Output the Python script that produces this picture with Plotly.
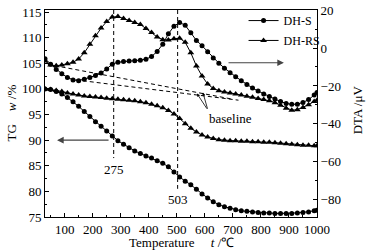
import plotly.graph_objects as go

# ---------------- data ----------------
T = [30, 50, 70, 90, 110, 130, 150, 170, 190, 210, 230, 250, 270, 290, 310, 330, 350, 370, 390, 410,
     430, 450, 470, 490, 510, 530, 550, 570, 590, 610, 630, 650, 670, 690, 710, 730, 750, 770, 790, 810,
     830, 850, 870, 890, 910, 930, 950, 970, 990, 1000]

tg_s = [100.0, 99.9, 99.5, 99.0, 98.3, 97.5, 96.6, 95.6, 94.6, 93.6, 92.7, 91.8, 90.8, 89.9, 89.2, 88.5,
        87.9, 87.4, 86.9, 86.5, 86.0, 85.5, 84.8, 83.8, 82.8, 82.0, 81.3, 80.4, 79.5, 78.7, 78.0, 77.4,
        77.0, 76.7, 76.4, 76.2, 76.1, 76.0, 75.9, 75.8, 75.8, 75.7, 75.7, 75.7, 75.7, 75.8, 75.9, 76.0,
        76.2, 76.3]

tg_rs = [100.0, 99.9, 99.7, 99.5, 99.2, 99.0, 98.8, 98.6, 98.5, 98.4, 98.3, 98.2, 98.1, 98.0, 97.9, 97.8,
         97.7, 97.5, 97.3, 97.0, 96.7, 96.3, 95.8, 95.1, 94.2, 93.2, 92.3, 91.6, 91.0, 90.6, 90.3, 90.1,
         90.0, 89.9, 89.9, 89.8, 89.8, 89.7, 89.7, 89.6, 89.6, 89.5, 89.4, 89.3, 89.2, 89.1, 89.0, 89.0,
         88.9, 88.9]

dta_s = [-5.7, -8.5, -11.3, -13.6, -15.5, -16.8, -17.2, -16.5, -15.5, -14.5, -13.2, -11.0, -8.5, -7.5,
         -7.1, -6.9, -6.7, -6.4, -5.9, -4.5, -1.8, 2.0, 7.5, 11.5, 13.5, 12.0, 8.0, 4.0, 1.2, -2.0, -5.3,
         -8.0, -10.6, -13.0, -15.1, -17.2, -19.2, -21.1, -22.7, -24.2, -25.6, -26.9, -28.2, -29.2, -29.7,
         -29.6, -28.7, -27.2, -24.8, -23.4]

dta_rs = [-6.8, -9.0, -9.4, -9.0, -8.3, -7.5, -5.8, -2.5, 2.0, 6.5, 10.5, 14.0, 16.3, 16.6, 15.6, 14.5,
          13.5, 12.4, 10.3, 8.2, 5.8, 4.4, 4.2, 4.9, 5.2, 3.0, -2.5, -9.5, -14.8, -19.0, -21.3, -22.5,
          -23.2, -23.7, -24.2, -24.8, -25.4, -26.0, -26.6, -27.1, -27.8, -28.8, -30.2, -31.8, -32.8, -32.5,
          -31.3, -29.9, -28.2, -27.6]

baseline1_x = [40, 700]
baseline1_y = [-8.6, -27.0]
baseline2_x = [140, 720]
baseline2_y = [-16.8, -27.5]

peak_temps = [275, 503]
peak_top = 115.4
peak_bottom = [86.5, 80.5]

x_ticks = [100, 200, 300, 400, 500, 600, 700, 800, 900, 1000]

FONT = "Liberation Serif"
BLACK = "#000000"

fig = go.Figure()

# TG curves (left axis) - these carry the legend entries
fig.add_trace(go.Scatter(x=T, y=tg_s, mode="lines+markers", name="DH-S",
                         line=dict(color=BLACK, width=1),
                         marker=dict(symbol="circle", size=5, color=BLACK),
                         showlegend=True, legend="legend", yaxis="y"))
fig.add_trace(go.Scatter(x=T, y=tg_rs, mode="lines+markers", name="DH-RS",
                         line=dict(color=BLACK, width=1),
                         marker=dict(symbol="triangle-up", size=6, color=BLACK),
                         showlegend=True, legend="legend2", yaxis="y"))
# DTA curves (right axis)
fig.add_trace(go.Scatter(x=T, y=dta_s, mode="lines+markers", name="DH-S",
                         line=dict(color=BLACK, width=1),
                         marker=dict(symbol="circle", size=5, color=BLACK),
                         showlegend=False, yaxis="y2"))
fig.add_trace(go.Scatter(x=T, y=dta_rs, mode="lines+markers", name="DH-RS",
                         line=dict(color=BLACK, width=1),
                         marker=dict(symbol="triangle-up", size=6, color=BLACK),
                         showlegend=False, yaxis="y2"))
# baselines
for bx, by in [(baseline1_x, baseline1_y), (baseline2_x, baseline2_y)]:
    fig.add_trace(go.Scatter(x=bx, y=by, mode="lines", showlegend=False, yaxis="y2",
                             line=dict(color=BLACK, width=1, dash="4px,3px"), hoverinfo="skip"))
# vertical peak lines
for px, pb in zip(peak_temps, peak_bottom):
    fig.add_trace(go.Scatter(x=[px, px], y=[peak_top, pb], mode="lines", showlegend=False, yaxis="y",
                             line=dict(color=BLACK, width=1, dash="4px,3px"), hoverinfo="skip"))

annotations = [
    dict(x=275, y=84.3, xref="x", yref="y", text="275", showarrow=False,
         font=dict(family=FONT, size=13, color=BLACK)),
    dict(x=503, y=78.5, xref="x", yref="y", text="503", showarrow=False,
         font=dict(family=FONT, size=13, color=BLACK)),
    # left arrow (TG)
    dict(x=73, y=90, xref="x", yref="y", ax=262, ay=90, axref="x", ayref="y", text="",
         showarrow=True, arrowhead=2, arrowsize=1.2, arrowwidth=1.1, arrowcolor="#444444"),
    # right arrow (DTA)
    dict(x=882, y=-7.8, xref="x", yref="y2", ax=679, ay=-7.8, axref="x", ayref="y2", text="",
         showarrow=True, arrowhead=2, arrowsize=1.2, arrowwidth=1.1, arrowcolor="#444444"),
    # baseline label and pointers
    dict(x=693, y=94.2, xref="x", yref="y", text="baseline", showarrow=False,
         font=dict(family=FONT, size=13, color=BLACK)),
    dict(x=572, y=-24.0, xref="x", yref="y2", ax=611, ay=-32.8, axref="x", ayref="y2", text="",
         showarrow=True, arrowhead=2, arrowsize=0.8, arrowwidth=0.8, arrowcolor=BLACK),
    dict(x=593, y=-23.4, xref="x", yref="y2", ax=611, ay=-32.8, axref="x", ayref="y2", text="",
         showarrow=True, arrowhead=2, arrowsize=0.8, arrowwidth=0.8, arrowcolor=BLACK),
    # axis titles
    dict(x=-0.125, y=0.5, xref="paper", yref="paper", text="TG &nbsp;&nbsp;&nbsp;<i>w</i> /%",
         textangle=-90, showarrow=False, xanchor="center", yanchor="middle",
         font=dict(family=FONT, size=13, color=BLACK)),
    dict(x=1.147, y=0.52, xref="paper", yref="paper", text="DTA /μV",
         textangle=-90, showarrow=False, xanchor="center", yanchor="middle",
         font=dict(family=FONT, size=13, color=BLACK)),
    dict(x=0.5, y=-0.122, xref="paper", yref="paper",
         text="Temperature &nbsp;&nbsp;&nbsp;&nbsp;<i>t</i> /℃",
         showarrow=False, xanchor="center", yanchor="middle",
         font=dict(family=FONT, size=13, color=BLACK)),
]

axis_common = dict(showline=True, linecolor=BLACK, linewidth=1, ticks="inside", ticklen=4,
                   tickcolor=BLACK, tickwidth=1, showgrid=False, zeroline=False, automargin=False,
                   tickfont=dict(family=FONT, size=13, color=BLACK))

legend_common = dict(xanchor="left", yanchor="top", bgcolor="rgba(0,0,0,0)",
                     font=dict(family=FONT, size=12, color=BLACK), itemwidth=30)

fig.update_layout(
    width=368, height=250,
    margin=dict(l=45, r=51, t=10, b=33, autoexpand=False),
    paper_bgcolor="white", plot_bgcolor="white",
    font=dict(family=FONT, size=13, color=BLACK),
    xaxis=dict(range=[30, 1000], tickvals=x_ticks, mirror=True,
               minor=dict(dtick=50, tick0=0, ticks="inside", ticklen=2, tickcolor=BLACK),
               **axis_common),
    yaxis=dict(range=[75, 115.4], dtick=5, tick0=75,
               minor=dict(dtick=2.5, tick0=75, ticks="inside", ticklen=2, tickcolor=BLACK),
               **axis_common),
    yaxis2=dict(range=[-89.1, 20.05], dtick=20, tick0=0, overlaying="y", side="right",
                minor=dict(dtick=10, tick0=0, ticks="inside", ticklen=2, tickcolor=BLACK),
                **axis_common),
    legend=dict(x=0.73, y=1.019, **legend_common),
    legend2=dict(x=0.73, y=0.923, **legend_common),
    annotations=annotations,
    showlegend=True,
)

fig.write_html("out.html", config={"displayModeBar": False},
               post_script="document.body.style.margin='0';")
